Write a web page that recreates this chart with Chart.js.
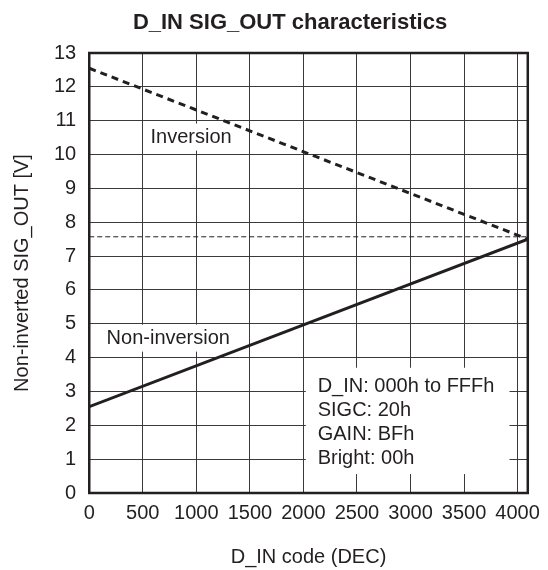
<!DOCTYPE html>
<html>
<head>
<meta charset="utf-8">
<script src="https://cdn.jsdelivr.net/npm/chart.js@4"></script>
<style>
  html, body { margin: 0; padding: 0; background: #fff; }
  #wrap { width: 548px; height: 570px; }
</style>
</head>
<body>
<div id="wrap"><canvas id="chart"></canvas></div>
<script>
// D_IN code (DEC) end points
const dinCodes = [0, 4095];
// SIG_OUT [V]
const nonInversion = [2.55, 7.5];
const inversion = [12.55, 7.5];
const refLevel = [7.57, 7.57];

const xTicks = [0, 500, 1000, 1500, 2000, 2500, 3000, 3500, 4000];
const yTicks = [0, 1, 2, 3, 4, 5, 6, 7, 8, 9, 10, 11, 12, 13];

const chartTitle = 'D_IN SIG_OUT characteristics';

// text notes, positioned in data units
const noteInversion = { text: 'Inversion', x: 951, y: 10.53 };
const noteNonInversion = { text: 'Non-inversion', x: 738, y: 4.59 };
const conditions = ['D_IN: 000h to FFFh', 'SIGC: 20h', 'GAIN: BFh', 'Bright: 00h'];
const conditionsBox = { x0: 2022, x1: 3924, y0: 0.56, y1: 3.70, textX: 2133, lineY: [3.17, 2.46, 1.75, 1.04] };

const ink = '#231f20';
const fontFamily = '"Liberation Sans", Arial, Helvetica, sans-serif';

const toPoints = (xs, ys) => xs.map((x, i) => ({ x: x, y: ys[i] }));

const notesPlugin = {
    id: 'notes',
    beforeDatasetsDraw(chart) {
        const ctx = chart.ctx;
        const xs = chart.scales.x, ys = chart.scales.y;
        ctx.save();
        ctx.font = '20px ' + fontFamily;
        ctx.textBaseline = 'middle';

        // label backgrounds + text
        for (const note of [noteInversion, noteNonInversion]) {
            const cx = xs.getPixelForValue(note.x);
            const cy = ys.getPixelForValue(note.y);
            const w = ctx.measureText(note.text).width;
            ctx.fillStyle = '#fff';
            ctx.fillRect(cx - w / 2 - 5, cy - 13, w + 10, 27);
            ctx.fillStyle = ink;
            ctx.textAlign = 'center';
            ctx.fillText(note.text, cx, cy + 1);
        }

        // conditions box
        const bx0 = xs.getPixelForValue(conditionsBox.x0);
        const bx1 = xs.getPixelForValue(conditionsBox.x1);
        const by0 = ys.getPixelForValue(conditionsBox.y1);
        const by1 = ys.getPixelForValue(conditionsBox.y0);
        ctx.fillStyle = '#fff';
        ctx.fillRect(bx0, by0, bx1 - bx0, by1 - by0);
        ctx.fillStyle = ink;
        ctx.textAlign = 'left';
        const tx = xs.getPixelForValue(conditionsBox.textX);
        conditions.forEach((line, i) => {
            ctx.fillText(line, tx, ys.getPixelForValue(conditionsBox.lineY[i]) + 1);
        });
        ctx.restore();
    },
    afterDatasetsDraw(chart) {
        const { ctx, chartArea } = chart;
        ctx.save();
        ctx.strokeStyle = ink;
        ctx.lineWidth = 2.5;
        ctx.strokeRect(chartArea.left, chartArea.top, chartArea.right - chartArea.left, chartArea.bottom - chartArea.top);

        // title, centred a bit right of the canvas middle like the original
        ctx.fillStyle = ink;
        ctx.font = 'bold 22px ' + fontFamily;
        ctx.textAlign = 'center';
        ctx.textBaseline = 'middle';
        ctx.fillText(chartTitle, 290, 23);
        ctx.restore();
    }
};

new Chart(document.getElementById('chart'), {
    type: 'line',
    data: {
        datasets: [
            {
                label: 'Reference',
                data: toPoints(dinCodes, refLevel),
                borderColor: ink,
                borderWidth: 1,
                borderDash: [5, 3],
                pointRadius: 0
            },
            {
                label: 'Inversion',
                data: toPoints(dinCodes, inversion),
                borderColor: ink,
                borderWidth: 3,
                borderDash: [7, 5],
                pointRadius: 0
            },
            {
                label: 'Non-inversion',
                data: toPoints(dinCodes, nonInversion),
                borderColor: ink,
                borderWidth: 3,
                pointRadius: 0
            }
        ]
    },
    options: {
        responsive: true,
        maintainAspectRatio: false,
        animation: false,
        layout: { padding: { left: 10, right: 6, top: 53, bottom: 1 } },
        plugins: {
            legend: { display: false },
            tooltip: { enabled: false },
            title: { display: false }
        },
        scales: {
            x: {
                type: 'linear',
                min: 0,
                max: 4095,
                afterBuildTicks: axis => { axis.ticks = xTicks.map(v => ({ value: v })); },
                ticks: {
                    autoSkip: false,
                    callback: v => String(v),
                    color: ink,
                    padding: 8,
                    maxRotation: 0,
                    font: { family: fontFamily, size: 20 }
                },
                grid: { color: '#3a3a3a', lineWidth: 1, drawTicks: false },
                border: { display: false },
                title: {
                    display: true,
                    text: 'D_IN code (DEC)',
                    color: ink,
                    font: { family: fontFamily, size: 20, lineHeight: 1.2 },
                    padding: { top: 12, bottom: 0 }
                }
            },
            y: {
                type: 'linear',
                min: 0,
                max: 13,
                afterBuildTicks: axis => { axis.ticks = yTicks.map(v => ({ value: v })); },
                ticks: {
                    autoSkip: false,
                    color: ink,
                    padding: 13,
                    font: { family: fontFamily, size: 20 }
                },
                grid: { color: '#3a3a3a', lineWidth: 1, drawTicks: false },
                border: { display: false },
                title: {
                    display: true,
                    text: 'Non-inverted SIG_OUT [V]',
                    color: ink,
                    font: { family: fontFamily, size: 20, lineHeight: 1.2 },
                    padding: { top: 0, bottom: 7 }
                }
            }
        }
    },
    plugins: [notesPlugin]
});
</script>
</body>
</html>
